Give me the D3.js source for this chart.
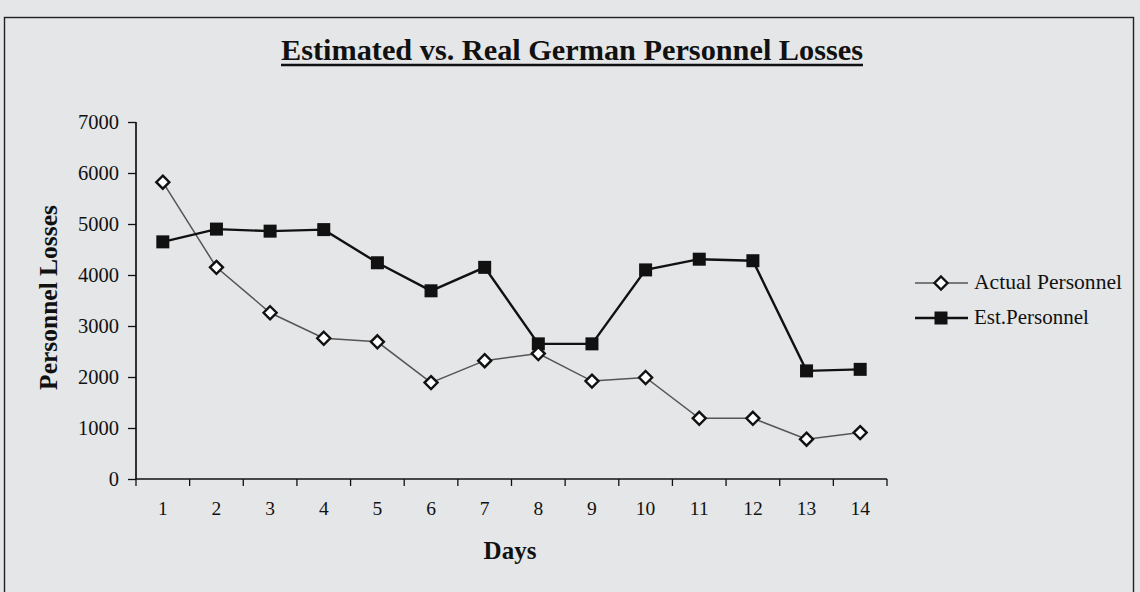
<!DOCTYPE html>
<html><head><meta charset="utf-8">
<script src="https://cdn.jsdelivr.net/npm/d3@7"></script>
<style>
html,body{margin:0;padding:0;background:#e4e6e7;}
svg{display:block;}
</style></head>
<body>
<svg id="chart" width="1140" height="592"></svg>
<script>
const days = [1,2,3,4,5,6,7,8,9,10,11,12,13,14];
const actualPersonnel = [5820,4150,3260,2760,2690,1890,2320,2460,1920,1990,1190,1190,780,910];
const estPersonnel = [4650,4900,4860,4890,4240,3690,4150,2650,2650,4100,4310,4280,2120,2150];
const yTicks = [0,1000,2000,3000,4000,5000,6000,7000];
const seriesNames = ["Actual Personnel","Est.Personnel"];
const titleText = "Estimated vs. Real German Personnel Losses";

const svg = d3.select("#chart");
const W = 1140, H = 592;
const font = "'Liberation Serif','Times New Roman',serif";

svg.append("rect").attr("x",0).attr("y",0).attr("width",W).attr("height",H).attr("fill","#e4e6e7");
// frame
svg.append("rect").attr("x",4.5).attr("y",17.5).attr("width",1129).attr("height",590)
  .attr("fill","none").attr("stroke","#222").attr("stroke-width",1.4);

const x = d3.scaleBand().domain(days).range([136,887]).paddingInner(0).paddingOuter(0);
const y = d3.scaleLinear().domain([0,7000]).range([479,122]);

// title
const title = svg.append("text").attr("x",572).attr("y",60).attr("text-anchor","middle")
  .attr("font-family",font).attr("font-weight","bold").attr("font-size",30)
  .attr("textLength",582).attr("lengthAdjust","spacingAndGlyphs")
  .attr("fill","#111").text(titleText);
svg.append("line").attr("x1",281).attr("x2",863).attr("y1",65).attr("y2",65)
  .attr("stroke","#111").attr("stroke-width",2.6);

// y axis
const yAxis = svg.append("g").attr("transform","translate(136,0)")
  .call(d3.axisLeft(y).tickValues(yTicks).tickSize(8).tickPadding(9).tickFormat(d3.format("d")));
// x axis
const xAxis = svg.append("g").attr("transform","translate(0,479)")
  .call(d3.axisBottom(x).tickSize(0).tickPadding(22));
// x tick marks between categories
const bounds = days.map(d=>x(d)).concat([x(days[days.length-1])+x.bandwidth()]);
svg.append("g").selectAll("line").data(bounds).join("line")
  .attr("x1",d=>d).attr("x2",d=>d).attr("y1",479).attr("y2",486)
  .attr("stroke","#111").attr("stroke-width",1.3);

[yAxis,xAxis].forEach(g=>{
  g.select(".domain").attr("stroke","#111").attr("stroke-width",1.7);
  g.selectAll(".tick line").attr("stroke","#111").attr("stroke-width",1.3);
  g.selectAll(".tick text").attr("font-family",font).attr("fill","#111");
});
yAxis.selectAll(".tick text").attr("font-size",20.5).attr("dy","0.34em");
xAxis.selectAll(".tick text").attr("font-size",19.5).attr("dy","0.71em");
yAxis.select(".domain").attr("d","M0,479V122");
xAxis.select(".domain").attr("d","M136,0H887");

// axis titles
svg.append("text").attr("transform","translate(57,297.5) rotate(-90)").attr("text-anchor","middle")
  .attr("font-family",font).attr("font-weight","bold").attr("font-size",25.5).attr("fill","#111")
  .text("Personnel Losses");
svg.append("text").attr("x",510).attr("y",559).attr("text-anchor","middle")
  .attr("font-family",font).attr("font-weight","bold").attr("font-size",25).attr("fill","#111")
  .text("Days");

const cx = d => x(d)+x.bandwidth()/2;
const lineGen = vals => d3.line().x((v,i)=>cx(days[i])).y(v=>y(v))(vals);

// actual line
svg.append("path").attr("d",lineGen(actualPersonnel)).attr("fill","none")
  .attr("stroke","#555").attr("stroke-width",1.5);
// est line
svg.append("path").attr("d",lineGen(estPersonnel)).attr("fill","none")
  .attr("stroke","#111").attr("stroke-width",2.4);

const diamond = (g, px, py) => g.append("path")
  .attr("d",`M${px},${py-6.5}L${px+6.5},${py}L${px},${py+6.5}L${px-6.5},${py}Z`)
  .attr("fill","#fff").attr("stroke","#111").attr("stroke-width",2.4);
const square = (g, px, py) => g.append("rect").attr("x",px-6.5).attr("y",py-6.5)
  .attr("width",13).attr("height",13).attr("fill","#111");

const mk = svg.append("g");
estPersonnel.forEach((v,i)=>square(mk,cx(days[i]),y(v)));
actualPersonnel.forEach((v,i)=>diamond(mk,cx(days[i]),y(v)));

// legend
const lg = svg.append("g");
lg.append("line").attr("x1",915).attr("x2",968).attr("y1",283).attr("y2",283).attr("stroke","#555").attr("stroke-width",1.5);
diamond(lg,941,283);
lg.append("text").attr("x",974).attr("y",289).attr("font-family",font).attr("font-size",21)
  .attr("textLength",148).attr("lengthAdjust","spacingAndGlyphs").attr("fill","#111").text(seriesNames[0]);
lg.append("line").attr("x1",915).attr("x2",968).attr("y1",318).attr("y2",318).attr("stroke","#111").attr("stroke-width",2.4);
square(lg,941,318);
lg.append("text").attr("x",974).attr("y",324).attr("font-family",font).attr("font-size",21).attr("fill","#111").text(seriesNames[1]);
</script>
</body></html>
